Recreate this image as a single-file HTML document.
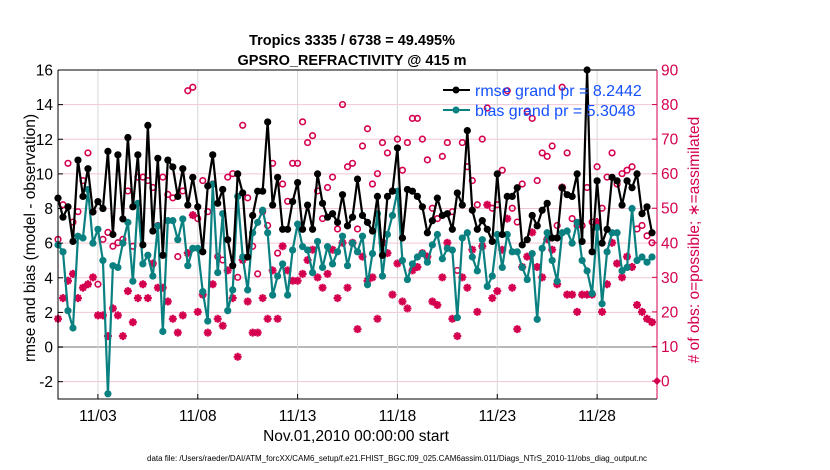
<!DOCTYPE html>
<html><head><meta charset="utf-8"><style>
html,body{margin:0;padding:0;background:#fff;}
svg{display:block;font-family:"Liberation Sans",Arial,sans-serif;}
</style></head><body>
<svg id="chart" width="830" height="470" viewBox="0 0 830 470" xmlns="http://www.w3.org/2000/svg">
<text x="352" y="45" text-anchor="middle" font-size="14.5" font-weight="bold">Tropics 3335 / 6738 = 49.495%</text>
<text x="352" y="65" text-anchor="middle" font-size="14.5" font-weight="bold">GPSRO_REFRACTIVITY @ 415 m</text>
<g id="grid"></g>
<g id="marks"></g>
<g id="axes"></g>
<text transform="translate(35,238) rotate(-90)" text-anchor="middle" font-size="15.5">rmse and bias (model - observation)</text>
<text transform="translate(699,240) rotate(-90)" text-anchor="middle" font-size="15.5" fill="#d4004f"># of obs: o=possible; ∗=assimilated</text>
<text x="356" y="441" text-anchor="middle" font-size="15.5">Nov.01,2010 00:00:00 start</text>
<text x="397" y="461" text-anchor="middle" font-size="8" textLength="500" lengthAdjust="spacingAndGlyphs">data file: /Users/raeder/DAI/ATM_forcXX/CAM6_setup/f.e21.FHIST_BGC.f09_025.CAM6assim.011/Diags_NTrS_2010-11/obs_diag_output.nc</text>
<g>
<line x1="443" y1="90" x2="470" y2="90" stroke="#000" stroke-width="2"/>
<circle cx="456" cy="90" r="3.5" fill="#000"/>
<text x="475" y="96" font-size="16" fill="#1450ff">rmse grand pr = 8.2442</text>
<line x1="443" y1="110" x2="470" y2="110" stroke="#0a8080" stroke-width="2"/>
<circle cx="456" cy="110" r="3.5" fill="#0a8080"/>
<text x="475" y="116" font-size="16" fill="#1450ff">bias grand pr = 5.3048</text>
</g>
</svg>
<script>
const rmse=[8.6,7.5,8.1,6.1,10.8,8.7,10.3,7.8,8.4,8.0,11.3,6.5,11.1,7.4,12.1,8.1,11.1,5.9,12.8,6.7,10.9,5.3,10.8,10.4,8.7,10.3,8.2,9.8,8.1,5.5,9.3,11.1,8.3,9.1,6.2,4.7,10.0,8.9,5.2,7.6,9.0,9.0,13.0,8.2,9.8,6.8,6.8,8.4,9.5,6.8,8.2,6.8,10.0,8.3,7.5,7.7,7.2,8.8,7.0,7.5,9.7,7.6,7.2,6.7,8.7,5.3,8.7,9.0,11.5,6.3,9.1,9.0,8.7,8.1,6.6,7.3,8.6,7.6,7.7,6.8,8.9,8.2,12.5,7.9,6.8,7.3,6.8,6.1,10.0,6.5,8.7,8.7,9.2,5.9,6.2,7.6,7.0,7.9,8.3,6.3,6.3,9.2,8.8,8.7,10.0,6.1,16.0,5.5,9.6,6.0,6.8,9.8,9.6,8.2,9.6,9.2,10.0,7.7,8.1,6.6];
const bias=[5.9,5.5,2.1,1.1,6.4,6.3,9.1,6.0,6.8,5.0,-2.7,4.7,4.6,6.0,7.2,3.8,8.3,4.8,5.3,4.1,7.0,0.9,7.3,7.3,6.2,7.4,4.7,5.7,5.7,3.2,1.5,9.4,4.3,7.7,2.1,3.3,8.7,5.2,3.3,6.6,7.2,7.9,6.6,3.0,4.1,4.8,3.0,5.6,7.1,5.8,5.6,4.3,6.1,4.6,5.8,4.8,5.5,6.4,4.7,6.0,5.5,6.4,3.6,5.4,7.7,4.1,6.5,7.6,9.0,5.0,3.9,4.8,5.2,5.4,4.9,5.9,6.5,5.1,5.7,5.6,1.7,6.3,6.6,5.2,4.4,6.2,3.5,4.1,6.5,4.6,6.5,5.5,5.5,4.6,3.9,5.4,1.6,5.7,6.6,5.0,3.8,6.6,6.7,6.0,7.2,5.0,4.4,3.1,6.9,2.5,5.5,6.6,6.6,4.4,4.6,8.0,5.0,5.2,4.9,5.2];
const nPossible=[41,51,63,46,49,58,66,49,28,41,43,39,40,41,55,39,59,59,58,56,45,59,54,53,36,55,84,85,47,58,49,57,36,35,59,60,30,74,53,39,31,49,45,63,37,57,52,63,63,75,69,71,55,47,56,59,44,80,62,63,44,68,73,57,60,69,66,55,70,61,69,76,76,70,64,50,47,65,69,49,32,69,62,58,51,70,79,50,51,61,84,50,46,57,78,76,58,66,65,68,45,85,66,47,45,45,56,46,62,50,59,66,57,60,61,62,44,45,42,40];
const nAssim=[18,24,29,31,24,27,28,30,19,19,13,21,19,13,26,17,24,28,24,34,27,27,23,18,14,19,37,48,20,25,14,28,18,16,32,24,7,35,23,14,14,24,18,32,18,39,32,29,29,31,35,38,30,27,31,38,24,40,27,40,15,36,29,30,18,40,37,25,34,23,21,32,33,37,36,23,22,30,40,18,13,30,27,38,20,39,51,24,26,38,47,27,15,33,36,43,33,30,41,38,28,56,25,25,20,25,25,25,46,20,28,40,34,30,36,33,22,20,18,17];
const yTicks=[-2,0,2,4,6,8,10,12,14,16];
const y2Ticks=[0,10,20,30,40,50,60,70,80,90];
const xTickDays=[2,7,12,17,22,27];
const xTickLabels=["11/03","11/08","11/13","11/18","11/23","11/28"];

const NS="http://www.w3.org/2000/svg";
const L=58,R=657,T=70,B=399;
const xS=d=>L+(d-0)/30*(R-L);
const yS=v=>B-(v-(-3))/19*(B-T);
const y2S=n=>381-n*(381-T)/90;
const PINK="#d4004f",TEAL="#0a8080";
function mk(tag,attrs,parent){const e=document.createElementNS(NS,tag);for(const k in attrs)e.setAttribute(k,attrs[k]);parent.appendChild(e);return e;}
const grid=document.getElementById('grid'),marks=document.getElementById('marks'),axes=document.getElementById('axes');

yTicks.forEach(v=>{
  const g=mk('line',{x1:L,x2:R,y1:yS(v),y2:yS(v),stroke:v===0?'#b8b8b8':'#f2c6d4','stroke-width':v===0?2:1},grid);
  
  
  const tk=mk('line',{x1:L,x2:L+5,y1:yS(v),y2:yS(v),stroke:'#000'},axes);
  
  
  const t=mk('text',{x:53,y:yS(v)+5.5,'text-anchor':'end','font-size':15.5},axes);
  t.textContent=v;
  
  
});
xTickDays.forEach((d,i)=>{
  const g=mk('line',{x1:xS(d),x2:xS(d),y1:T,y2:B,stroke:'#d8d8d8','stroke-width':1},grid);
  
  
  const tk=mk('line',{x1:xS(d),x2:xS(d),y1:B,y2:B-5,stroke:'#000'},axes);
  
  
  const t=mk('text',{x:xS(d),y:421,'text-anchor':'middle','font-size':15.5},axes);
  t.textContent=xTickLabels[i];
  
  
});
y2Ticks.forEach(n=>{
  const tk=mk('line',{x1:R-5,x2:R,y1:y2S(n),y2:y2S(n),stroke:PINK},axes);
  
  
  const t=mk('text',{x:661,y:y2S(n)+5.5,'font-size':15.5,fill:PINK},axes);
  t.textContent=n;
  
  
});
const box=mk('path',{d:`M${L},${T}H${R}M${L},${T}V${B}H${R}`,fill:'none',stroke:'#000','stroke-width':1},axes);


const ax2=mk('line',{x1:R,x2:R,y1:T,y2:B,stroke:PINK,'stroke-width':1},axes);



const dayOf=i=>i*0.25;
// possible obs circles
nPossible.forEach((n,i)=>{
  const c=mk('circle',{cx:xS(dayOf(i)),cy:y2S(n),r:2.8,fill:'none',stroke:PINK,'stroke-width':1.6},marks);
  
  
});
// assimilated stars
nAssim.forEach((n,i)=>{
  const cx=xS(dayOf(i)),cy=y2S(n),r=4;
  let d='';
  for(let k=0;k<4;k++){const a=k*Math.PI/4;d+=`M${cx-r*Math.cos(a)},${cy-r*Math.sin(a)}L${cx+r*Math.cos(a)},${cy+r*Math.sin(a)}`;}
  const s=mk('path',{d:d,stroke:PINK,'stroke-width':2.2},marks);
  
  
});
const zd=mk('path',{d:`M${R-4},${y2S(0)}L${R},${y2S(0)-4}L${R+4},${y2S(0)}L${R},${y2S(0)+4}Z`,fill:PINK},marks);



function series(vals,color,name){
  const pl=mk('polyline',{points:vals.map((v,i)=>xS(dayOf(i))+','+yS(v)).join(' '),fill:'none',stroke:color,'stroke-width':2.2,'stroke-linejoin':'round'},marks);
  
  
  vals.forEach((v,i)=>{
    const c=mk('circle',{cx:xS(dayOf(i)),cy:yS(v),r:3.6,fill:color},marks);
    
    
  });
}
series(bias,TEAL,'bias');
series(rmse,'#000','rmse');
</script>
</body></html>
